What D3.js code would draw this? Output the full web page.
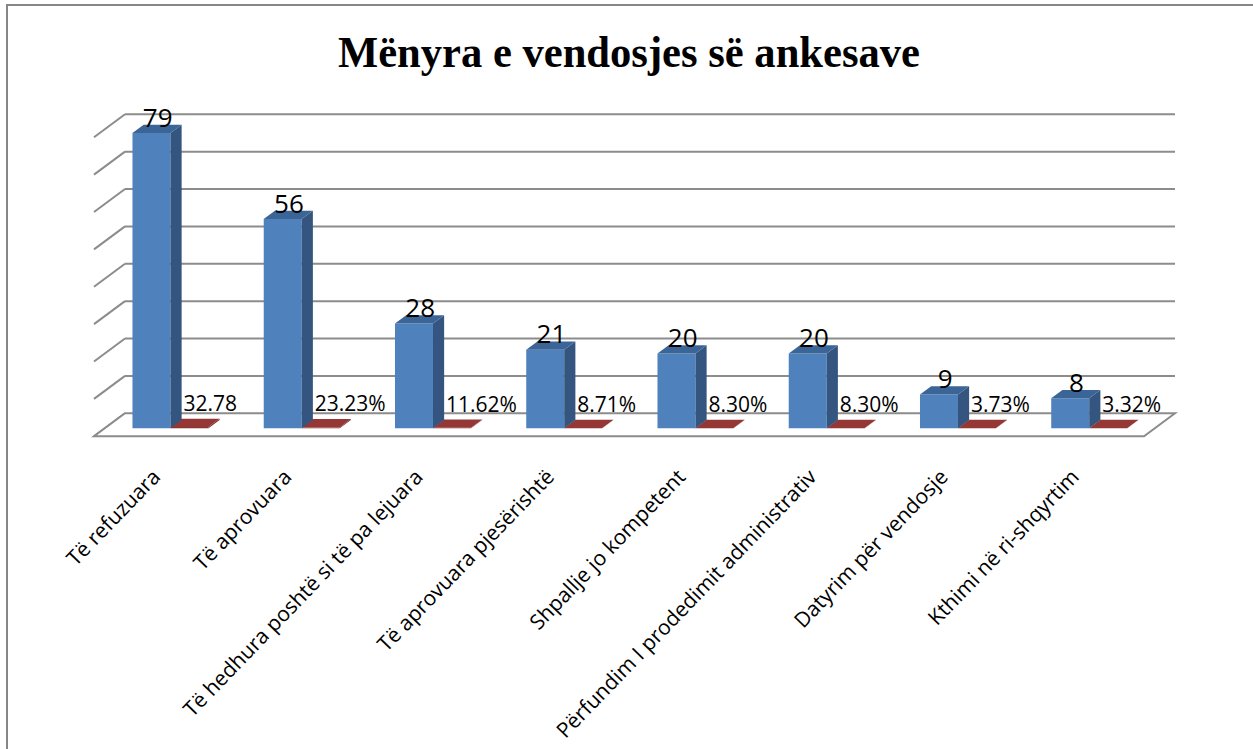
<!DOCTYPE html>
<html>
<head>
<meta charset="utf-8">
<script src="https://cdn.jsdelivr.net/npm/d3@7"></script>
<style>
    body { margin: 0; background: #fff; overflow: hidden; }
    .title { font-family: "Liberation Serif", "Times New Roman", serif; font-weight: bold; }
    .lbl { font-family: "Open Sans", "Noto Sans", sans-serif; fill: #000; }
</style>
</head>
<body>
<script>
//Chart data
var categories = ["Të refuzuara", "Të aprovuara", "Të hedhura poshtë si të pa lejuara",
    "Të aprovuara pjesërishtë", "Shpallje jo kompetent", "Përfundim I prodedimit administrativ",
    "Datyrim për vendosje", "Kthimi në ri-shqyrtim"];
var counts = [79, 56, 28, 21, 20, 20, 9, 8];
var shares = [0.3278, 0.2323, 0.1162, 0.0871, 0.0830, 0.0830, 0.0373, 0.0332];
var shareLabels = ["32.78", "23.23%", "11.62%", "8.71%", "8.30%", "8.30%", "3.73%", "3.32%"];
var yTicks = [0, 10, 20, 30, 40, 50, 60, 70, 80];

(function () {
    var width = 1253,
        height = 749,
        dx = 31, dy = 23,      //oblique depth offset of the floor
        zFront = 0.65, zBack = 0.29,
        barWidth = 38;

    var svg = d3.select("body").append("svg")
        .attr("width", width)
        .attr("height", height);

//Outer frame (only left and top edges are visible)
    svg.append("rect")
        .attr("x", 7).attr("y", 5)
        .attr("width", 1300).attr("height", 800)
        .attr("fill", "none")
        .attr("stroke", "#868686")
        .attr("stroke-width", 2);

//Title
    svg.append("text")
        .attr("class", "title")
        .attr("x", 629)
        .attr("y", 67)
        .attr("text-anchor", "middle")
        .attr("font-size", 44)
        .attr("textLength", 582)
        .attr("lengthAdjust", "spacingAndGlyphs")
        .text("Mënyra e vendosjes së ankesave");

//Scales on the back wall
    var x = d3.scaleBand()
        .domain(categories)
        .range([125, 1175]);

    var y = d3.scaleLinear()
        .domain([0, 80])
        .range([413.3, 114.3]);

//Project a point (x on back wall, value, depth 0..1) to the screen
    function P(px, v, z) {
        return [px - z * dx, y(v) + z * dy];
    }
    function poly(pts) {
        return "M" + pts.map(function (p) { return p[0] + "," + p[1]; }).join("L") + "Z";
    }

    var x0 = x.range()[0], x1 = x.range()[1];

//Back wall gridlines and side wall diagonals
    var grid = svg.append("g")
        .attr("stroke", "#8c8c8c")
        .attr("stroke-width", 2)
        .attr("fill", "none");

    grid.selectAll(".gridBack")
        .data(yTicks.slice(1))
        .enter()
        .append("line")
        .attr("class", "gridBack")
        .attr("x1", x0).attr("x2", x1)
        .attr("y1", function (d) { return y(d); })
        .attr("y2", function (d) { return y(d); });

    grid.selectAll(".gridSide")
        .data(yTicks)
        .enter()
        .append("line")
        .attr("class", "gridSide")
        .attr("x1", x0).attr("y1", function (d) { return y(d); })
        .attr("x2", function (d) { return P(x0, d, 1)[0]; })
        .attr("y2", function (d) { return P(x0, d, 1)[1]; });

//Floor
    grid.append("path")
        .attr("d", poly([P(x0, 0, 0), P(x1, 0, 0), P(x1, 0, 1), P(x0, 0, 1)]))
        .attr("fill", "#fff");

//Draw a 3D column
    function drawBar(g, left, v, colors) {
        var r = left + barWidth;
        g.append("path")
            .attr("d", poly([P(left, 0, zFront), P(r, 0, zFront), P(r, v, zFront), P(left, v, zFront)]))
            .attr("fill", colors[0]);
        g.append("path")
            .attr("d", poly([P(r, 0, zFront), P(r, 0, zBack), P(r, v, zBack), P(r, v, zFront)]))
            .attr("fill", colors[1]);
        g.append("path")
            .attr("d", poly([P(left, v, zFront), P(r, v, zFront), P(r, v, zBack), P(left, v, zBack)]))
            .attr("fill", colors[2]);
    }

    var pad = (x.bandwidth() - 2 * barWidth) / 2;

    var groups = svg.selectAll(".cat")
        .data(categories)
        .enter()
        .append("g")
        .attr("class", "cat");

    groups.each(function (d, i) {
        var g = d3.select(this);
        var blueLeft = x(d) + pad,
            redLeft = blueLeft + barWidth;

        drawBar(g, redLeft, shares[i], ["#8c3331", "#7a2c2a", "#953735"]);
        drawBar(g, blueLeft, counts[i], ["#4f81bd", "#34557f", "#3c6597"]);

//Count label above the blue bar
        var top = P(blueLeft + barWidth / 2, counts[i], zBack);
        g.append("text")
            .attr("class", "lbl")
            .attr("x", top[0] - 5)
            .attr("y", top[1] + 2)
            .attr("text-anchor", "middle")
            .attr("font-size", 26)
            .text(counts[i]);

//Share label next to the red bar
        var rfront = P(redLeft, shares[i], zFront),
            rtop = P(redLeft, shares[i], zBack);
        g.append("text")
            .attr("class", "lbl")
            .attr("x", rfront[0] + 13)
            .attr("y", rtop[1] - 8)
            .attr("font-size", 21)
            .text(shareLabels[i]);

//Category label, rotated under the floor
        var fx = P(x(d) + x.bandwidth() / 2, 0, 1)[0] + 2;
        g.append("text")
            .attr("class", "lbl")
            .attr("text-anchor", "end")
            .attr("font-size", 21)
            .attr("transform", "translate(" + fx + ",478) rotate(-46)")
            .text(d);
    });
})();
</script>
</body>
</html>
